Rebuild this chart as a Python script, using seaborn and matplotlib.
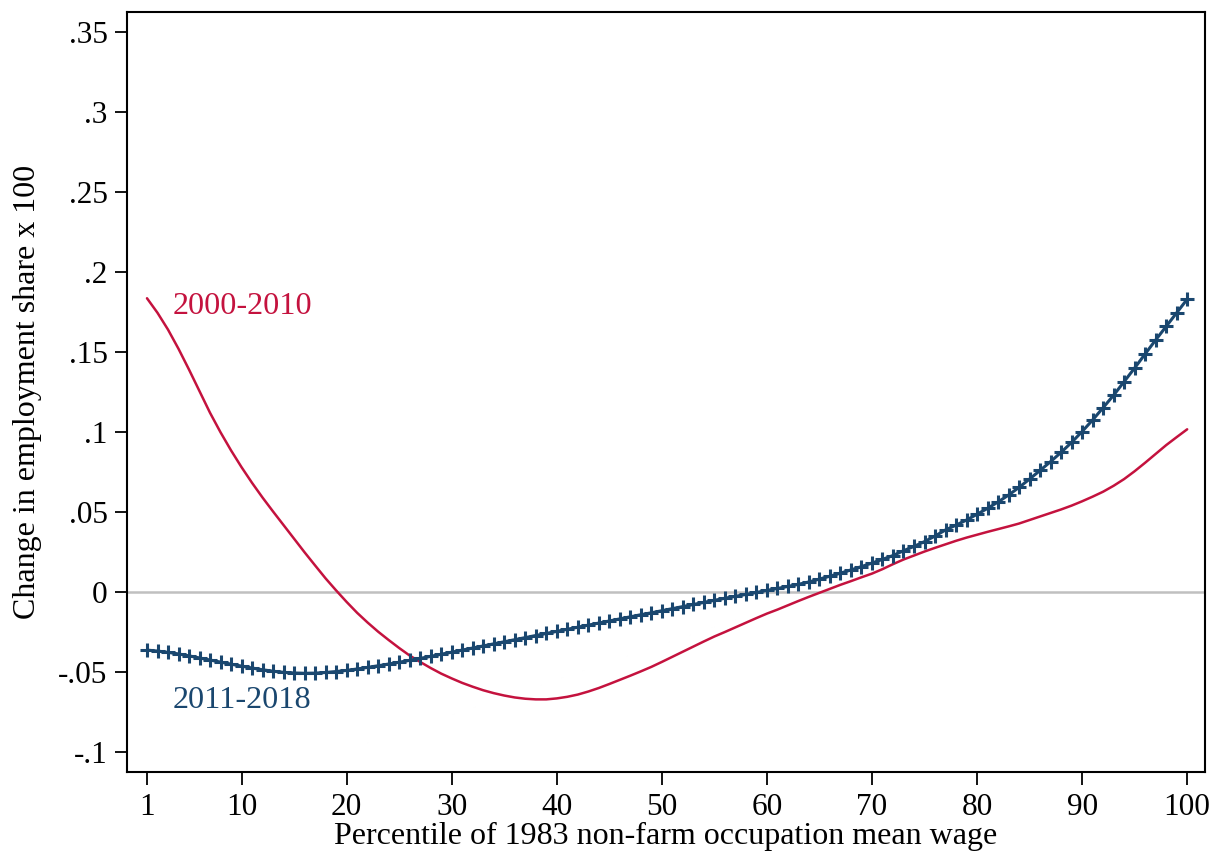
import numpy as np
import pandas as pd
import matplotlib
matplotlib.use("Agg")
import matplotlib.pyplot as plt
import seaborn as sns

# Percentiles of the 1983 wage distribution
percentile = list(range(1, 101))

# Smoothed change in employment share x 100, 2000-2010
share_2000_2010 = [
    0.1836, 0.1745, 0.1640, 0.1520, 0.1390, 0.1255, 0.1120, 0.0998, 0.0885, 0.0780,
    0.0682, 0.0590, 0.0503, 0.0418, 0.0333, 0.0248, 0.0166, 0.0085, 0.0010, -0.0062,
    -0.0130, -0.0191, -0.0248, -0.0300, -0.0350, -0.0397, -0.0437, -0.0475, -0.0510, -0.0540,
    -0.0568, -0.0592, -0.0614, -0.0632, -0.0647, -0.0659, -0.0667, -0.0671, -0.0671, -0.0665,
    -0.0655, -0.0641, -0.0622, -0.0600, -0.0575, -0.0549, -0.0523, -0.0496, -0.0468, -0.0437,
    -0.0405, -0.0373, -0.0341, -0.0309, -0.0278, -0.0250, -0.0221, -0.0192, -0.0163, -0.0135,
    -0.0110, -0.0083, -0.0056, -0.0030, -0.0005, 0.0020, 0.0045, 0.0068, 0.0092, 0.0115,
    0.0143, 0.0174, 0.0203, 0.0228, 0.0253, 0.0276, 0.0298, 0.0320, 0.0340, 0.0358,
    0.0376, 0.0393, 0.0410, 0.0428, 0.0450, 0.0472, 0.0494, 0.0516, 0.0540, 0.0567,
    0.0596, 0.0627, 0.0664, 0.0706, 0.0755, 0.0808, 0.0863, 0.0918, 0.0968, 0.1017,
]

# Smoothed change in employment share x 100, 2011-2018
share_2011_2018 = [
    -0.0363, -0.0369, -0.0377, -0.0387, -0.0399, -0.0412, -0.0425, -0.0438, -0.0451, -0.0463,
    -0.0475, -0.0486, -0.0495, -0.0502, -0.0506, -0.0508, -0.0507, -0.0503, -0.0497, -0.0490,
    -0.0481, -0.0471, -0.0461, -0.0450, -0.0439, -0.0427, -0.0415, -0.0402, -0.0389, -0.0376,
    -0.0363, -0.0350, -0.0337, -0.0324, -0.0311, -0.0298, -0.0285, -0.0272, -0.0259, -0.0246,
    -0.0233, -0.0220, -0.0207, -0.0194, -0.0181, -0.0168, -0.0155, -0.0142, -0.0130, -0.0117,
    -0.0104, -0.0091, -0.0078, -0.0065, -0.0052, -0.0039, -0.0027, -0.0015, -0.0003, 0.0010,
    0.0022, 0.0035, 0.0048, 0.0063, 0.0081, 0.0099, 0.0118, 0.0138, 0.0159, 0.0181,
    0.0204, 0.0228, 0.0258, 0.0285, 0.0315, 0.0350, 0.0388, 0.0418, 0.0450, 0.0486,
    0.0523, 0.0563, 0.0606, 0.0654, 0.0706, 0.0760, 0.0815, 0.0873, 0.0935, 0.1003,
    0.1075, 0.1152, 0.1230, 0.1315, 0.1400, 0.1488, 0.1575, 0.1660, 0.1745, 0.1830,
]

x_ticks = [1, 10, 20, 30, 40, 50, 60, 70, 80, 90, 100]
y_ticks = [-0.1, -0.05, 0, 0.05, 0.1, 0.15, 0.2, 0.25, 0.3, 0.35]
y_tick_labels = ["-.1", "-.05", "0", ".05", ".1", ".15", ".2", ".25", ".3", ".35"]

RED = "#c4123e"
BLUE = "#1a476f"

sns.set_theme(style="white")
plt.rcParams["font.family"] = ["Liberation Serif", "DejaVu Serif"]

df = pd.DataFrame({
    "pct": percentile,
    "s1": share_2000_2010,
    "s2": share_2011_2018,
})

fig = plt.figure(figsize=(12.25, 8.65), dpi=100)
ax = fig.add_axes([0.1037, 0.1075, 0.88, 0.8786])

# ligne zéro
ax.axhline(0, color="#c0c0c0", lw=1.8, zorder=1)

sns.lineplot(data=df, x="pct", y="s1", ax=ax, color=RED, lw=1.8, zorder=2)
sns.lineplot(data=df, x="pct", y="s2", ax=ax, color=BLUE, lw=2.2,
             marker="+", markersize=9.5, markeredgewidth=2.2,
             markeredgecolor=BLUE, zorder=3)

ax.set_xlim(-0.9, 101.7)
ax.set_ylim(-0.1125, 0.3625)
ax.set_xticks(x_ticks)
ax.set_xticklabels([str(t) for t in x_ticks])
ax.set_yticks(y_ticks)
ax.set_yticklabels(y_tick_labels)

ax.tick_params(axis="both", direction="out", length=9, width=1.3,
               color="black", labelsize=22.5, labelcolor="black")
ax.tick_params(axis="x", pad=6, bottom=True)
ax.tick_params(axis="y", pad=5, left=True)

for s in ax.spines.values():
    s.set_color("black")
    s.set_linewidth(1.5)

ax.set_xlabel("Percentile of 1983 non-farm occupation mean wage",
              fontsize=23, color="black", labelpad=0)
ax.set_ylabel("Change in employment share x 100",
              fontsize=23, color="black", labelpad=12)

ax.text(3.4, 0.1785, "2000-2010", color=RED, fontsize=23.2, va="center", ha="left")
ax.text(3.45, -0.068, "2011-2018", color=BLUE, fontsize=23.2, va="center", ha="left")

fig.savefig("out.png", dpi=100, facecolor="white")
